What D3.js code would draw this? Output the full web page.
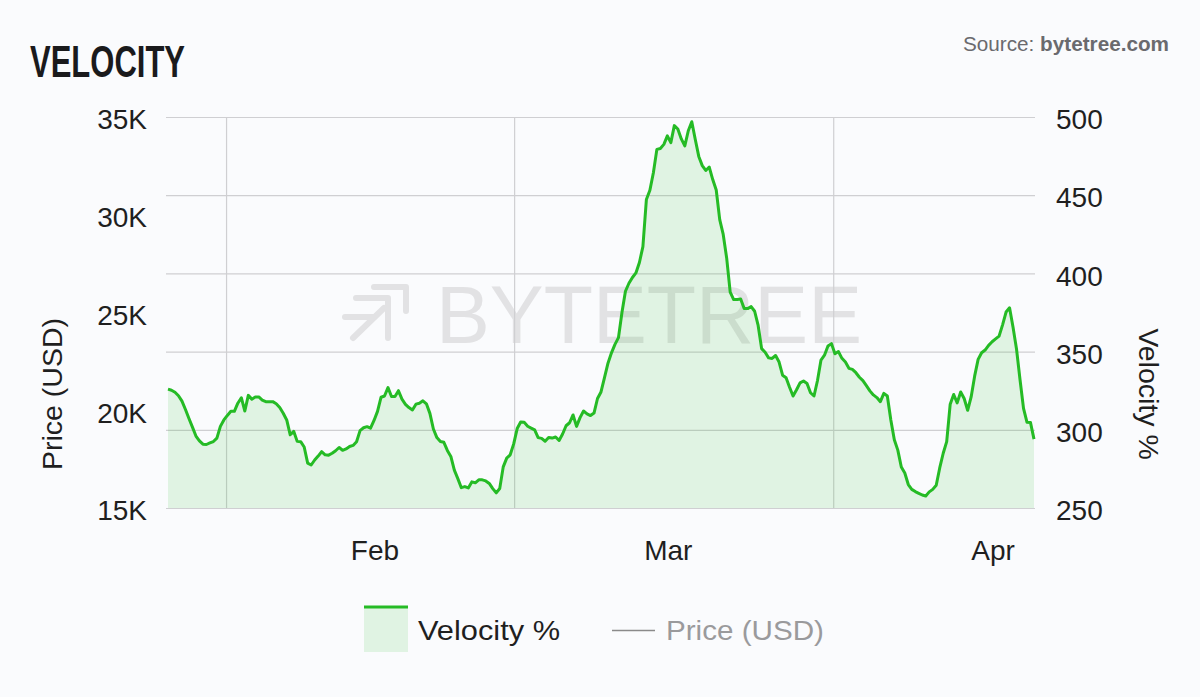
<!DOCTYPE html>
<html>
<head>
<meta charset="utf-8">
<script src="https://cdn.jsdelivr.net/npm/d3@7"></script>
<style>
  html, body { margin: 0; padding: 0; background: #fafbfd; }
  svg { display: block; }
  text { font-family: "Liberation Sans", Arial, sans-serif; }
</style>
</head>
<body>
<svg id="chart" width="1200" height="697"></svg>
<script>
// ---------- data ----------
const seriesStart = "2023-01-12T07:00:00";
const stepHours = 8;
const velocity = [
  326, 325.3, 324, 321.8, 318.3, 313, 307.2, 301.7, 296, 292.9,
  290.8, 290.6, 291.6, 292.5, 294.7, 302.2, 306.3, 309.2, 311.8, 311.8,
  317, 320.5, 312, 322, 319.6, 321, 321, 319, 318, 318,
  318, 316.7, 314.3, 310.6, 306.3, 296.8, 299, 292.6, 292.4, 289,
  278.7, 277.5, 280.7, 283.2, 286, 284, 283.8, 285, 286.6, 288.7,
  286.9, 287.8, 289.3, 290, 292.4, 299.5, 301.3, 302, 301, 306,
  311.8, 320.8, 321.6, 327, 321.3, 321.3, 325, 319.6, 316.3, 314.2,
  312.7, 316.4, 317, 318.5, 316.6, 310.5, 300.5, 295, 292.5, 292,
  286.8, 283, 274.2, 268.8, 263, 263.7, 262.8, 266.7, 266.1, 268,
  268, 267.3, 265.7, 262.4, 259.7, 262.5, 276.3, 281.9, 284, 291,
  300.8, 305, 304.8, 302.3, 301.1, 300, 295, 294.5, 292.7, 295.1,
  294.7, 295.4, 293.2, 297.3, 302.6, 304.5, 309.5, 302.2, 307.8, 312,
  310.2, 309.1, 310.7, 320, 324.2, 333.4, 342.6, 349.2, 354.6, 358.9,
  375, 388.6, 393.7, 397.4, 400.3, 407, 417.1, 447.3, 453.2, 464.4,
  479.3, 479.9, 482.5, 487.9, 483.6, 494.5, 492.3, 486, 481.5, 491.2,
  497, 485.6, 474.8, 468.9, 465.8, 468, 460, 453.3, 434.4, 424.9,
  409.6, 388, 383.3, 383.3, 383.6, 377.6, 377.5, 378.8, 375.8, 366.7,
  351.9, 349.6, 346, 345.6, 347.5, 343.3, 334.9, 333.3, 327.2, 321.6,
  325.6, 330, 331.2, 329.6, 323.7, 321.6, 331.5, 344.6, 347.7, 353.6,
  355.1, 348.6, 350, 345.7, 343.3, 339.3, 338.6, 336.5, 333.6, 331.4,
  328.2, 324.9, 322.3, 320.6, 318, 323.3, 321.6, 306.3, 293.6, 287,
  276.2, 272.4, 265, 261.9, 260.5, 259.4, 258.3, 257.7, 260.3, 261.9,
  264.5, 275.6, 285, 292.4, 316.4, 322.6, 317.2, 324.2, 320, 312.5,
  321, 334.3, 345, 349.3, 351, 354, 356.3, 358.1, 359.9, 367.1,
  375.3, 378, 365.6, 351.5, 332, 313.7, 304.8, 304.6, 294
];
const priceTicks = [15000, 20000, 25000, 30000, 35000];
const priceTickLabels = ["15K", "20K", "25K", "30K", "35K"];
const velocityTicks = [250, 300, 350, 400, 450, 500];
const monthTicks = ["2023-02-01", "2023-03-01", "2023-04-01"];
const monthLabels = ["Feb", "Mar", "Apr"];
const gridDates = ["2023-01-17T20:00:00", "2023-02-14T08:00:00", "2023-03-16T19:00:00"];

// ---------- layout ----------
const svg = d3.select("#chart");
const L = 168, R = 1034, T = 117, B = 508;
const start = new Date(seriesStart);
const dates = velocity.map((_, i) => d3.timeHour.offset(start, i * stepHours));
const data = dates.map((d, i) => ({ date: d, v: velocity[i] }));

const x = d3.scaleTime().domain([dates[0], dates[dates.length - 1]]).range([L, R]);
const yV = d3.scaleLinear().domain([250, 500]).range([B, T]);
const yP = d3.scaleLinear().domain([15000, 35000]).range([B, T]);

const gridColor = "#cfcfd2";
const textColor = "#1f1f1f";

// title & source
svg.append("text").attr("x", 30).attr("y", 77)
  .attr("font-family", "'Liberation Sans Narrow', 'DejaVu Sans Condensed', 'Roboto Condensed', Roboto, sans-serif")
  .attr("font-weight", 700).attr("font-size", 45).attr("fill", "#1a1a1c")
  .attr("textLength", 155).attr("lengthAdjust", "spacingAndGlyphs")
  .text("VELOCITY");
const src = svg.append("text").attr("x", 1169).attr("y", 51).attr("text-anchor", "end")
  .attr("font-size", 20).attr("fill", "#6a6a6e")
  .attr("textLength", 206).attr("lengthAdjust", "spacingAndGlyphs");
src.append("tspan").text("Source: ");
src.append("tspan").attr("font-weight", 700).text("bytetree.com");

// watermark
const wm = svg.append("g").attr("fill", "none").attr("stroke", "#e2e2e4")
  .attr("stroke-width", 6).attr("stroke-linecap", "round").attr("stroke-linejoin", "round");
wm.append("path").attr("d", "M374,287 H406 V311");
wm.append("path").attr("d", "M356,298 H388 V338");
wm.append("path").attr("d", "M345,317 H373");
wm.append("path").attr("d", "M353,338 L384,308");
svg.append("text").attr("x", 436).attr("y", 343)
  .attr("font-family", "Roboto, 'Open Sans', sans-serif").attr("font-weight", 300)
  .attr("font-size", 81).attr("fill", "#e2e2e4")
  .attr("textLength", 426).attr("lengthAdjust", "spacingAndGlyphs")
  .text("BYTETREE");

// horizontal gridlines
const gridG = svg.append("g").attr("transform", `translate(${L - 2},0)`)
  .call(d3.axisRight(yV).tickValues(velocityTicks).tickSize(R - L + 3).tickFormat(""));
gridG.select(".domain").remove();
gridG.selectAll("line").attr("stroke", gridColor).attr("stroke-width", 1.2);

// vertical gridlines
const vg = svg.append("g").attr("transform", `translate(0,${T})`)
  .call(d3.axisBottom(x).tickValues(gridDates.map(d => new Date(d))).tickSize(B - T).tickFormat(""));
vg.select(".domain").remove();
vg.selectAll("line").attr("stroke", gridColor).attr("stroke-width", 1.2);

// area + line
svg.append("path").datum(data)
  .attr("d", d3.area().x(d => x(d.date)).y0(yV(250)).y1(d => yV(d.v)).curve(d3.curveLinear))
  .attr("fill", "rgba(45,190,45,0.12)");
svg.append("path").datum(data)
  .attr("d", d3.line().x(d => x(d.date)).y(d => yV(d.v)).curve(d3.curveLinear))
  .attr("fill", "none").attr("stroke", "#25bb25").attr("stroke-width", 3)
  .attr("stroke-linejoin", "round");

// left axis
const la = svg.append("g").attr("transform", `translate(${L},0)`)
  .call(d3.axisLeft(yP).tickValues(priceTicks).tickSize(0).tickPadding(21)
    .tickFormat((d, i) => priceTickLabels[i]));
la.select(".domain").remove();
la.selectAll("text").attr("font-size", 28).attr("fill", textColor)
  .attr("font-family", "'Liberation Sans', Arial, sans-serif").attr("dy", "0.42em");

// right axis
const ra = svg.append("g").attr("transform", `translate(${R},0)`)
  .call(d3.axisRight(yV).tickValues(velocityTicks).tickSize(0).tickPadding(22));
ra.select(".domain").remove();
ra.selectAll("text").attr("font-size", 28).attr("fill", textColor)
  .attr("font-family", "'Liberation Sans', Arial, sans-serif").attr("dy", "0.42em");

// bottom axis
const ba = svg.append("g").attr("transform", `translate(0,${B})`)
  .call(d3.axisBottom(x).tickValues(monthTicks.map(d => new Date(d + "T00:00:00")))
    .tickSize(0).tickPadding(0).tickFormat((d, i) => monthLabels[i]));
ba.select(".domain").remove();
ba.selectAll("text").attr("font-size", 28).attr("fill", textColor)
  .attr("font-family", "'Liberation Sans', Arial, sans-serif").attr("dy", null).attr("y", 52);

// axis titles
svg.append("text").attr("transform", "translate(62,394) rotate(-90)")
  .attr("text-anchor", "middle").attr("font-size", 28.5).attr("fill", textColor).text("Price (USD)");
svg.append("text").attr("transform", "translate(1139,394) rotate(90)")
  .attr("text-anchor", "middle").attr("font-size", 28.5).attr("fill", textColor).text("Velocity %");

// legend
const lg = svg.append("g");
lg.append("rect").attr("x", 364).attr("y", 606).attr("width", 44).attr("height", 46)
  .attr("fill", "rgba(45,190,45,0.12)");
lg.append("line").attr("x1", 364).attr("x2", 408).attr("y1", 607).attr("y2", 607)
  .attr("stroke", "#25bb25").attr("stroke-width", 3);
lg.append("text").attr("x", 418).attr("y", 640).attr("font-size", 28.5).attr("fill", textColor)
  .attr("textLength", 142).attr("lengthAdjust", "spacingAndGlyphs").text("Velocity %");
lg.append("line").attr("x1", 612).attr("x2", 655).attr("y1", 630.5).attr("y2", 630.5)
  .attr("stroke", "#8a8a8a").attr("stroke-width", 1.3);
lg.append("text").attr("x", 666).attr("y", 640).attr("font-size", 28.5).attr("fill", "#9a9a9c")
  .attr("textLength", 158).attr("lengthAdjust", "spacingAndGlyphs").text("Price (USD)");
</script>
</body>
</html>
